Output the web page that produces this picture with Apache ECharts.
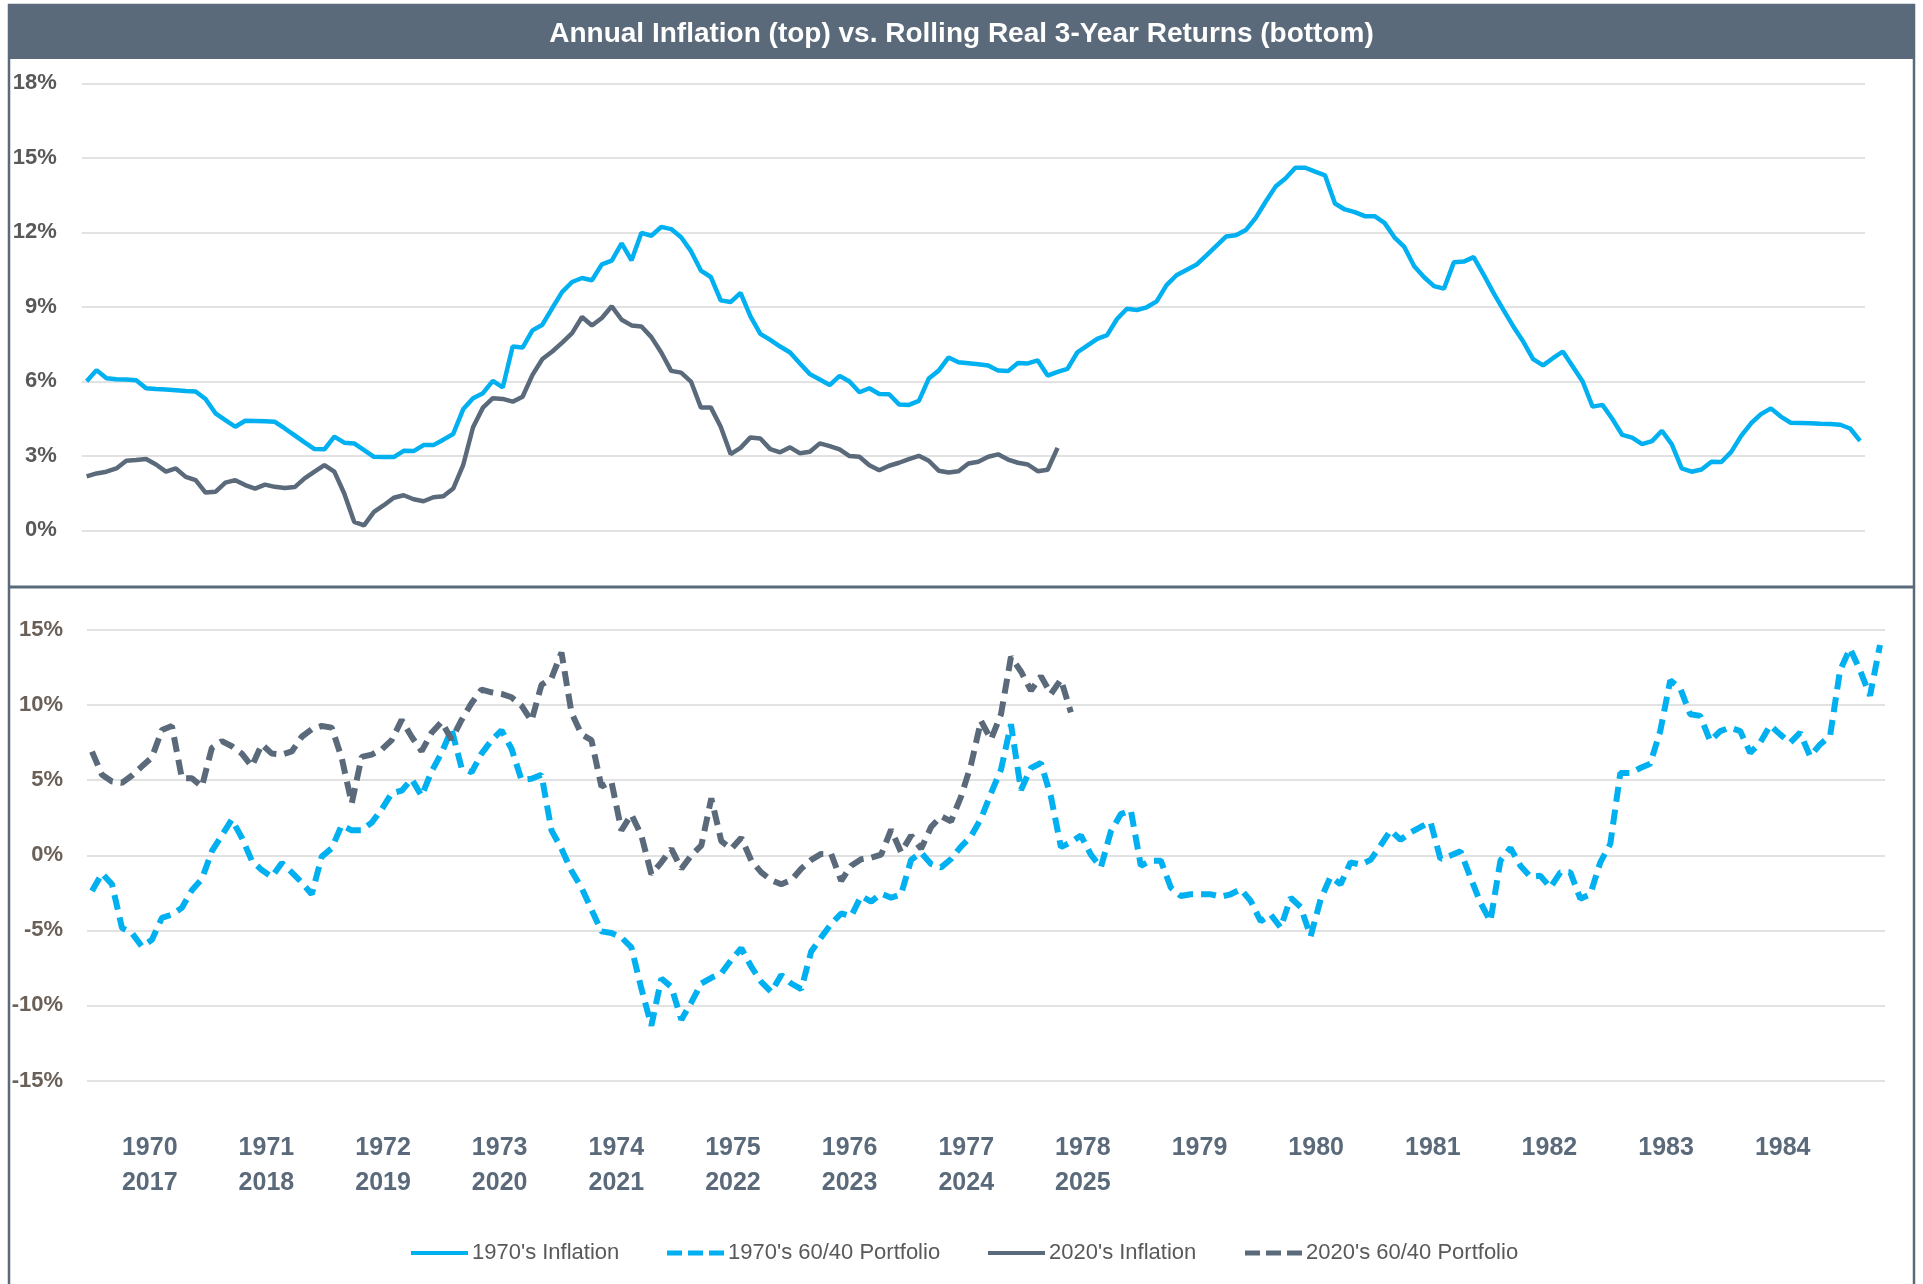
<!DOCTYPE html>
<html>
<head>
<meta charset="utf-8" />
<title>Annual Inflation vs. Rolling Real 3-Year Returns</title>
<script src="https://cdn.jsdelivr.net/npm/echarts@6.0.0/dist/echarts.min.js"></script>
<style>
    html, body { margin: 0; padding: 0; background: #fff; }
    #chart { width: 1923px; height: 1284px; }
</style>
</head>
<body>
<div id="chart"></div>
<script>
    // monthly values, % (1970s series starts Jan 1970, 2020s series is aligned below it)
    var inflation1970 = [
        6.00, 6.45, 6.12, 6.08, 6.07, 6.04, 5.72, 5.69, 5.67, 5.64,
        5.61, 5.59, 5.29, 4.71, 4.44, 4.17, 4.41, 4.40, 4.39, 4.37,
        4.10, 3.82, 3.54, 3.27, 3.26, 3.77, 3.53, 3.50, 3.23, 2.96,
        2.95, 2.95, 3.20, 3.19, 3.43, 3.43, 3.65, 3.88, 4.87, 5.32,
        5.52, 6.02, 5.75, 7.40, 7.36, 8.05, 8.28, 8.95, 9.60, 10.00,
        10.16, 10.07, 10.71, 10.86, 11.55, 10.87, 11.98, 11.86, 12.22, 12.13,
        11.80, 11.24, 10.46, 10.20, 9.26, 9.19, 9.56, 8.61, 7.91, 7.67,
        7.40, 7.16, 6.72, 6.29, 6.07, 5.85, 6.22, 5.99, 5.56, 5.72,
        5.49, 5.48, 5.07, 5.05, 5.21, 6.11, 6.43, 6.96, 6.77, 6.73,
        6.69, 6.64, 6.43, 6.41, 6.74, 6.72, 6.84, 6.23, 6.38, 6.50,
        7.17, 7.44, 7.71, 7.86, 8.51, 8.92, 8.87, 8.98, 9.22, 9.87,
        10.27, 10.48, 10.69, 11.06, 11.44, 11.83, 11.88, 12.09, 12.58, 13.23,
        13.84, 14.17, 14.60, 14.60, 14.44, 14.29, 13.16, 12.92, 12.81, 12.65,
        12.65, 12.38, 11.80, 11.41, 10.63, 10.19, 9.83, 9.73, 10.79, 10.82,
        11.00, 10.30, 9.56, 8.88, 8.21, 7.60, 6.89, 6.64, 6.93, 7.20,
        6.60, 5.99, 4.98, 5.05, 4.48, 3.84, 3.73, 3.47, 3.59, 4.01,
        3.46, 2.49, 2.36, 2.45, 2.76, 2.75, 3.16, 3.80, 4.31, 4.68,
        4.91, 4.58, 4.33, 4.32, 4.31, 4.29, 4.28, 4.25, 4.10, 3.60
    ];
    var inflation2020 = [
        2.17, 2.29, 2.36, 2.49, 2.80, 2.83, 2.87, 2.65, 2.36, 2.49,
        2.15, 2.02, 1.52, 1.55, 1.92, 2.02, 1.82, 1.68, 1.84, 1.75,
        1.70, 1.74, 2.09, 2.36, 2.62, 2.36, 1.48, 0.34, 0.20, 0.74,
        1.01, 1.31, 1.41, 1.25, 1.17, 1.33, 1.37, 1.68, 2.62, 4.15,
        4.94, 5.32, 5.29, 5.18, 5.38, 6.26, 6.90, 7.20, 7.56, 7.94,
        8.59, 8.25, 8.55, 9.02, 8.48, 8.25, 8.21, 7.78, 7.16, 6.42,
        6.35, 5.99, 4.94, 4.95, 4.17, 3.07, 3.32, 3.74, 3.70, 3.27,
        3.14, 3.34, 3.10, 3.16, 3.50, 3.39, 3.26, 2.99, 2.96, 2.62,
        2.42, 2.60, 2.72, 2.87, 3.00, 2.80, 2.40, 2.33, 2.38, 2.69,
        2.76, 2.96, 3.06, 2.85, 2.72, 2.65, 2.38, 2.44, 3.32
    ];
    var portfolio1970 = [
        -2.38, -1.21, -1.93, -4.84, -5.18, -6.08, -5.63, -4.17, -3.95, -3.50,
        -2.33, -1.59, 0.27, 1.32, 2.38, 1.17, -0.36, -0.99, -1.43, -0.52,
        -1.14, -1.82, -2.60, -0.09, 0.47, 2.00, 1.66, 1.66, 2.17, 3.05,
        4.13, 4.30, 5.07, 3.95, 5.58, 6.82, 8.39, 5.81, 5.52, 6.77,
        7.65, 8.32, 7.09, 5.02, 5.09, 5.36, 1.66, 0.43, -1.03, -2.15,
        -3.61, -5.07, -5.18, -5.47, -6.14, -8.88, -11.35, -8.21, -8.77, -10.95,
        -9.80, -8.54, -8.16, -7.87, -6.97, -6.19, -7.42, -8.43, -9.10, -7.98,
        -8.54, -8.92, -6.41, -5.47, -4.57, -3.88, -4.06, -2.71, -3.09, -2.56,
        -2.83, -2.60, -0.31, 0.18, -0.58, -0.81, -0.25, 0.58, 1.26, 2.44,
        4.13, 5.70, 8.72, 4.35, 5.81, 6.14, 3.90, 0.54, 0.87, 1.32,
        0.04, -0.81, 1.59, 2.74, 3.00, -0.70, -0.36, -0.36, -2.15, -2.71,
        -2.60, -2.60, -2.60, -2.76, -2.60, -2.26, -3.05, -4.39, -3.95, -4.82,
        -2.83, -3.45, -5.40, -2.94, -1.43, -1.93, -0.47, -0.63, -0.31, 0.65,
        1.66, 1.03, 1.52, 1.88, 2.22, -0.25, -0.02, 0.27, -1.48, -3.16,
        -4.39, -0.36, 0.49, -0.70, -1.43, -1.37, -2.15, -1.14, -1.14, -2.89,
        -2.60, -0.47, 0.76, 5.47, 5.47, 5.81, 6.10, 8.27, 11.64, 11.12,
        9.39, 9.28, 7.60, 8.27, 8.50, 8.27, 6.82, 7.49, 8.65, 8.05,
        7.49, 8.16, 6.59, 7.38, 7.94, 12.31, 13.77, 12.31, 10.63, 14.00
    ];
    var portfolio2020 = [
        6.90, 5.36, 4.91, 4.82, 5.31, 5.92, 6.52, 8.34, 8.61, 5.13,
        5.13, 4.57, 7.15, 7.60, 7.26, 6.77, 5.92, 7.38, 6.77, 6.70,
        6.91, 7.89, 8.39, 8.61, 8.50, 6.48, 3.45, 6.55, 6.70, 7.04,
        7.67, 9.01, 7.89, 6.93, 8.16, 8.88, 7.71, 9.01, 10.13, 11.03,
        10.85, 10.74, 10.52, 9.96, 8.95, 11.35, 11.79, 13.50, 9.50, 8.05,
        7.67, 4.57, 4.91, 1.66, 2.71, 1.32, -1.26, -0.47, 0.43, -0.90,
        0.00, 0.65, 3.79, 0.94, 0.43, 1.17, -0.36, -1.14, -1.66, -1.93,
        -1.66, -0.90, -0.31, 0.09, 0.09, -1.70, -0.70, -0.27, -0.16, 0.04,
        1.70, 0.20, 1.32, 0.43, 1.88, 2.60, 2.26, 3.90, 6.03, 8.95,
        7.71, 9.39, 13.21, 12.24, 10.96, 11.93, 10.74, 11.70, 9.51
    ];
    var yearLabels = [
        '1970\n2017', '1971\n2018', '1972\n2019', '1973\n2020', '1974\n2021',
        '1975\n2022', '1976\n2023', '1977\n2024', '1978\n2025', '1979',
        '1980', '1981', '1982', '1983', '1984'
    ];

    // one category per month, 180 months
    var months = [];
    for (var i = 0; i < 180; i++) {
        months.push((1970 + Math.floor(i / 12)) + '-' + (i % 12 + 1));
    }
    var labelSlots = yearLabels.map(function (t, k) { return k; });

    var blue = '#00b0f0';
    var slate = '#5a6a7b';
    var font = 'Liberation Sans, Arial, sans-serif';
    var solidIcon = 'path://M0,0h57v4h-57z';
    var dashIcon = 'path://M0,0h15v5h-15z M21,0h15v5h-15z M42,0h15v5h-15z';

    var myChart = echarts.init(document.getElementById('chart'));

    var option = {
        animation: false,
        title: {
            text: 'Annual Inflation (top) vs. Rolling Real 3-Year Returns (bottom)',
            left: 'center',
            top: 19,
            padding: 0,
            textStyle: { color: '#fff', fontSize: 28, fontWeight: 'bold', fontFamily: font, lineHeight: 30 }
        },
        graphic: [
            { type: 'rect', z: -1, shape: { x: 9, y: 5, width: 1905, height: 54 }, style: { fill: slate } },
            { type: 'rect', z: -1, shape: { x: 9, y: 5, width: 1905, height: 1300 }, style: { fill: null, stroke: slate, lineWidth: 2.5 } },
            { type: 'line', z: -1, shape: { x1: 9, y1: 587, x2: 1914, y2: 587 }, style: { stroke: slate, lineWidth: 3 } }
        ],
        legend: [
            { data: [{ name: "1970's Inflation", icon: solidIcon }], left: 411, itemHeight: 4 },
            { data: [{ name: "1970's 60/40 Portfolio", icon: dashIcon }], left: 667, itemHeight: 5 },
            { data: [{ name: "2020's Inflation", icon: solidIcon }], left: 988, itemHeight: 4 },
            { data: [{ name: "2020's 60/40 Portfolio", icon: dashIcon }], left: 1245, itemHeight: 5 }
        ].map(function (l) {
            l.top = 1242;
            l.padding = 0;
            l.itemWidth = 57;
            l.textStyle = { color: '#595959', fontSize: 22, fontFamily: font, padding: [0, 0, 0, -1] };
            return l;
        }),
        grid: [
            { left: 81.7, right: 58, top: 83.3, height: 447 },
            { left: 87, right: 38, top: 630, height: 450.5 }
        ],
        xAxis: [
            {
                type: 'category', gridIndex: 0, data: months, boundaryGap: true,
                axisLine: { show: false }, axisTick: { show: false }, axisLabel: { show: false }
            },
            {
                type: 'category', gridIndex: 1, data: months, boundaryGap: true,
                axisLine: { show: false }, axisTick: { show: false }, axisLabel: { show: false }
            },
            {
                // year captions sit on their own scale, as in the original
                type: 'value', gridIndex: 1, position: 'bottom', min: -0.538, max: 14.877,
                axisLine: { show: false }, axisTick: { show: false }, splitLine: { show: false },
                axisLabel: {
                    customValues: labelSlots,
                    formatter: function (v) { return yearLabels[Math.round(v)]; },
                    margin: 50,
                    color: slate, fontSize: 25, fontWeight: 'bold', fontFamily: font, lineHeight: 35
                }
            }
        ],
        yAxis: [
            {
                type: 'value', gridIndex: 0, min: 0, max: 18, interval: 3,
                axisLine: { show: false }, axisTick: { show: false },
                splitLine: { lineStyle: { color: '#d9d9d9', width: 1.5 } },
                axisLabel: { formatter: '{value}%', margin: 25, color: '#595959', fontSize: 22, fontWeight: 'bold', fontFamily: font }
            },
            {
                type: 'value', gridIndex: 1, min: -15, max: 15, interval: 5,
                axisLine: { show: false }, axisTick: { show: false },
                splitLine: { lineStyle: { color: '#d9d9d9', width: 1.5 } },
                axisLabel: { formatter: '{value}%', margin: 24, color: '#6b6058', fontSize: 22, fontWeight: 'bold', fontFamily: font }
            }
        ],
        series: [
            {
                name: "1970's Inflation", type: 'line', xAxisIndex: 0, yAxisIndex: 0,
                data: inflation1970, symbol: 'none',
                itemStyle: { color: blue }, lineStyle: { color: blue, width: 4.5 }
            },
            {
                name: "2020's Inflation", type: 'line', xAxisIndex: 0, yAxisIndex: 0,
                data: inflation2020, symbol: 'none',
                itemStyle: { color: slate }, lineStyle: { color: slate, width: 4.5 }
            },
            {
                name: "1970's 60/40 Portfolio", type: 'line', xAxisIndex: 1, yAxisIndex: 1,
                data: portfolio1970, symbol: 'none',
                itemStyle: { color: blue }, lineStyle: { color: blue, width: 6, type: [15, 8] }
            },
            {
                name: "2020's 60/40 Portfolio", type: 'line', xAxisIndex: 1, yAxisIndex: 1,
                data: portfolio2020, symbol: 'none',
                itemStyle: { color: slate }, lineStyle: { color: slate, width: 6, type: [15, 8] }
            }
        ]
    };

    myChart.setOption(option);
</script>
</body>
</html>
